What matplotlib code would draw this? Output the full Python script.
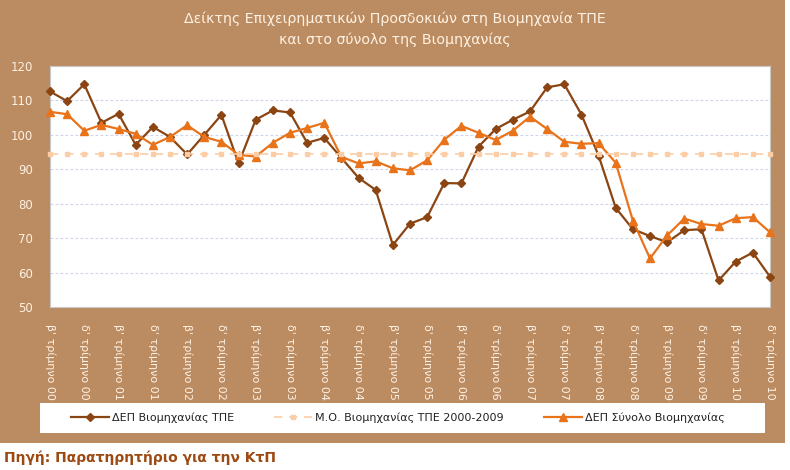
import matplotlib.pyplot as plt
from matplotlib.patches import Rectangle

# quarterly values, β' τρίμηνο 2000 .. δ' τρίμηνο 2010
dep_tpe = [112.6, 109.8, 114.7, 103.5, 106.1, 97.1, 102.3, 99.4, 94.3, 100.0,
           105.8, 91.7, 104.4, 107.1, 106.5, 97.7, 99.1, 93.3, 87.5, 84.0,
           68.0, 74.2, 76.1, 86.0, 85.9, 96.6, 101.7, 104.4, 106.8, 113.8,
           114.7, 105.9, 94.0, 78.8, 72.6, 70.6, 68.8, 72.3, 72.6, 57.7,
           63.2, 65.8, 58.8]
dep_total = [106.7, 106.0, 101.2, 102.9, 101.7, 100.3, 97.1, 99.4, 102.8, 99.4,
             98.0, 94.2, 93.7, 97.7, 100.6, 102.0, 103.5, 93.6, 91.7, 92.3,
             90.3, 89.7, 92.6, 98.6, 102.6, 100.6, 98.5, 101.2, 105.3, 101.7,
             98.0, 97.4, 97.6, 91.9, 75.1, 64.1, 70.8, 75.7, 74.1, 73.6,
             75.8, 76.1, 71.7]
mo_tpe = 94.5  # Μ.Ο. 2000-2009

tick_labels = ["β' τρίμηνο 00", "δ' τρίμηνο 00", "β' τρίμηνο 01", "δ' τρίμηνο 01",
               "β' τρίμηνο 02", "δ' τρίμηνο 02", "β' τρίμηνο 03", "δ' τρίμηνο 03",
               "β' τρίμηνο 04", "δ' τρίμηνο 04", "β' τρίμηνο 05", "δ' τρίμηνο 05",
               "β' τρίμηνο 06", "δ' τρίμηνο 06", "β' τρίμηνο 07", "δ' τρίμηνο 07",
               "β' τρίμηνο 08", "δ' τρίμηνο 08", "β' τρίμηνο 09", "δ' τρίμηνο 09",
               "β' τρίμηνο 10", "δ' τρίμηνο 10"]

tan = '#BB8B62'
cream = '#FFF2E2'
brown = '#8B4513'
orange = '#E8731A'
peach = '#FBCDA6'

x = list(range(len(dep_tpe)))

fig = plt.figure(figsize=(7.9, 4.7), dpi=100)
fig.patch.set_facecolor('white')
# tan background panel and white legend box
fig.patches.append(Rectangle((0, (470 - 443) / 470), 785 / 790, 443 / 470,
                             transform=fig.transFigure, facecolor=tan,
                             edgecolor='none', zorder=-2))
fig.patches.append(Rectangle((40 / 790, (470 - 433) / 470), 725 / 790, 30 / 470,
                             transform=fig.transFigure, facecolor='white',
                             edgecolor='none', zorder=-1))

ax = fig.add_axes([50 / 790, (470 - 307) / 470, 720 / 790, 241 / 470])
ax.set_facecolor('white')

ax.plot(x, dep_tpe, color=brown, lw=1.6, marker='D', ms=4.5,
        clip_on=False, zorder=3, label='ΔΕΠ Βιομηχανίας ΤΠΕ')
ax.plot(x, dep_total, color=orange, lw=1.6, marker='^', ms=5.5,
        clip_on=False, zorder=4, label='ΔΕΠ Σύνολο Βιομηχανίας')
ax.plot(x, [mo_tpe] * len(x), color=peach, ls=(0, (5, 4)), lw=1.2, marker='s',
        ms=3.5, clip_on=False, zorder=5, label='Μ.Ο. Βιομηχανίας ΤΠΕ 2000-2009')

ax.set_xlim(0, len(x) - 1)
ax.set_ylim(50, 120)
ax.set_yticks(range(50, 121, 10))
ax.set_xticks(x[::2])
ax.set_xticklabels(tick_labels, rotation=270, fontsize=8, color=cream)
ax.tick_params(axis='y', labelsize=8.5, labelcolor=cream, length=0, pad=12)
ax.tick_params(axis='x', length=0, pad=12)
ax.grid(axis='y', color='#CDD5EC', ls=(0, (2.5, 2)), lw=0.8)
ax.set_axisbelow(True)
for s in ax.spines.values():
    s.set_color('#C8C8C8')
    s.set_linewidth(0.8)

fig.text(0.5, 1 - 19 / 470, 'Δείκτης Επιχειρηματικών Προσδοκιών στη Βιομηχανία ΤΠΕ',
         ha='center', va='center', fontsize=10.2, color=cream)
fig.text(0.5, 1 - 40 / 470, 'και στο σύνολο της Βιομηχανίας',
         ha='center', va='center', fontsize=10.2, color=cream)

h, l = ax.get_legend_handles_labels()
order = [0, 2, 1]
leg = fig.legend([h[i] for i in order], [l[i] for i in order], ncol=3,
                 loc='center', bbox_to_anchor=(398 / 790, 1 - 418 / 470),
                 frameon=False, fontsize=8, handlelength=3.4, handletextpad=0.3,
                 columnspacing=3.6, borderaxespad=0)
for t in leg.get_texts():
    t.set_color('#222222')

fig.text(4 / 790, 1 - 458 / 470, 'Πηγή: Παρατηρητήριο για την ΚτΠ',
         ha='left', va='center', fontsize=10, fontweight='bold', color='#9C4A12',
         family=['Liberation Sans Narrow', 'DejaVu Sans'])

fig.savefig('out.png', dpi=100)
